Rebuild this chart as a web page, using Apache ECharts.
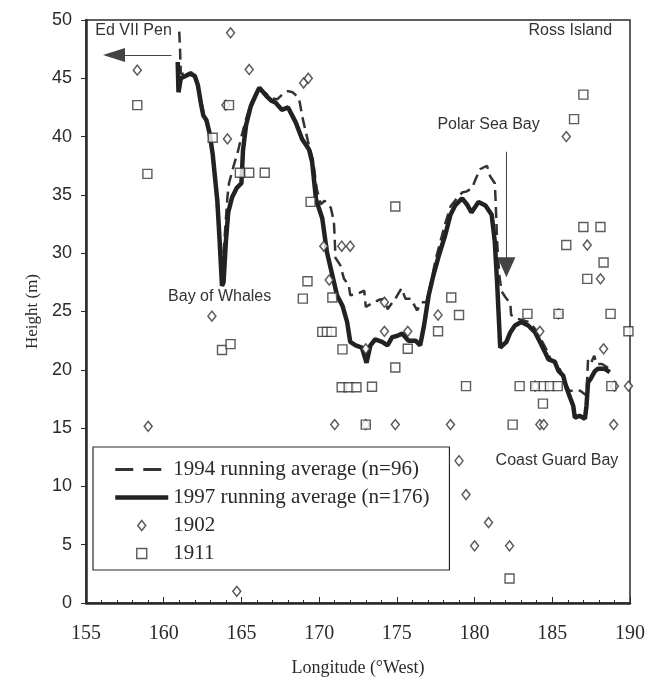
<!DOCTYPE html>
<html><head><meta charset="utf-8">
<script src="https://cdn.jsdelivr.net/npm/echarts@6/dist/echarts.min.js"></script>
<style>html,body{margin:0;padding:0;background:#fff;}#c{width:648px;height:684px;}</style>
</head><body><div id="c"></div>
<script>
// 1994 running average (n=96)
const lon1994 = [161.0,161.05,161.1,161.5,161.8,162.1,162.4,162.6,162.9,163.15,163.35,163.6,163.75,163.9,164.1,164.2,164.5,164.75,165.0,165.3,165.6,165.9,166.15,166.5,166.9,167.3,167.7,168.0,168.3,168.7,168.95,169.3,169.6,169.85,170.1,170.35,170.75,170.95,171.0,171.05,171.35,171.6,171.9,172.0,172.45,172.9,173.0,173.4,173.85,174.25,174.4,174.9,175.3,175.55,175.9,176.3,176.6,176.9,177.2,177.5,177.8,178.1,178.45,178.8,179.2,179.5,179.85,180.05,180.35,180.8,181.0,181.3,181.35,181.45,181.6,181.75,182.0,182.3,182.35,182.7,183.0,183.5,183.9,184.2,184.6,184.9,185.3,185.6,185.9,186.1,186.3,186.8,187.2,187.3,187.5,187.7,187.85,188.2,188.8];
const h1994   = [49.0,47.5,45.4,45.4,45.5,44.8,43.0,41.8,40.6,38.5,35.5,31.0,28.5,31.0,34.8,36.0,37.5,38.6,40.0,41.5,42.8,43.6,44.1,43.8,43.3,43.2,43.7,43.9,43.8,43.3,41.5,39.5,38.0,35.5,34.2,34.5,33.9,32.7,31.3,29.6,29.0,27.8,27.3,26.4,26.5,26.8,25.4,25.7,26.0,26.1,25.2,26.1,27.0,26.1,26.1,25.1,25.8,25.8,27.5,29.5,31.0,32.5,34.0,34.6,35.2,35.3,35.6,36.3,37.2,37.5,36.6,36.0,34.6,31.0,28.0,26.7,26.2,25.7,24.7,24.4,24.3,24.1,23.5,22.8,21.8,20.9,20.6,19.7,18.7,18.2,18.2,18.2,17.8,20.9,20.6,21.2,20.5,20.5,20.0];
// 1997 running average (n=176)
const lon1997 = [160.9,160.95,161.1,161.4,161.7,162.0,162.2,162.4,162.55,162.75,162.95,163.15,163.3,163.45,163.6,163.75,163.85,164.0,164.15,164.4,164.7,165.0,165.1,165.3,165.6,165.9,166.15,166.4,166.6,166.9,167.2,167.6,168.0,168.5,168.9,169.35,169.55,169.8,170.2,170.5,170.85,171.15,171.5,171.8,172.0,172.35,172.75,173.05,173.3,173.6,174.05,174.4,174.7,175.0,175.35,175.75,176.2,176.5,176.75,177.05,177.35,177.7,178.1,178.45,178.75,179.2,179.5,179.8,180.25,180.7,181.1,181.3,181.45,181.55,181.65,182.05,182.3,182.6,183.0,183.45,183.9,184.2,184.5,184.75,185.15,185.4,185.7,185.9,186.15,186.35,186.45,186.75,187.1,187.2,187.3,187.5,187.75,187.95,188.35,188.7];
const h1997   = [46.4,43.8,45.0,45.2,45.4,45.2,44.4,42.8,41.8,41.4,40.3,38.5,36.5,34.5,31.0,27.2,27.5,31.0,33.5,34.8,35.6,36.0,38.8,41.0,42.6,43.5,44.2,43.8,43.5,43.1,42.9,42.3,42.5,41.2,39.8,38.9,37.8,34.6,33.0,30.1,28.1,26.4,25.5,24.1,22.4,22.1,21.9,20.6,22.1,22.6,22.4,22.1,22.8,22.9,23.1,22.5,22.5,22.1,23.8,26.4,28.1,29.8,31.5,33.3,34.1,34.7,34.2,33.5,34.4,34.1,33.3,31.0,27.5,24.7,21.9,22.4,23.2,23.8,24.1,23.8,23.2,22.4,21.6,20.9,20.7,19.9,19.5,18.5,17.6,16.9,15.9,16.05,15.8,16.9,18.9,19.3,19.9,20.1,20.1,19.8];
// 1902 survey
const lon1902 = [158.3,164.3,165.5,164.0,164.1,163.1,159.0,164.7,169.0,169.3,170.3,171.45,172.0,170.65,174.2,174.2,175.7,173.0,177.65,171.0,174.9,178.45,179.0,179.45,180.9,180.0,182.25,185.9,187.25,188.1,184.2,188.3,189.0,189.9,184.2,184.45,188.95,185.4,183.9,173.0];
const h1902   = [45.7,48.9,45.75,42.7,39.8,24.6,15.15,1.0,44.6,45.0,30.6,30.6,30.6,27.7,25.8,23.3,23.3,21.8,24.7,15.3,15.3,15.3,12.2,9.3,6.9,4.9,4.9,40.0,30.7,27.8,23.3,21.8,18.6,18.6,15.3,15.3,15.3,24.8,18.6,15.3];
// 1911 survey
const lon1911 = [158.3,164.2,163.15,158.95,164.9,165.5,166.5,163.75,164.3,169.45,174.9,187.0,186.4,169.25,168.95,170.85,170.2,170.5,170.8,171.5,175.7,174.9,171.45,171.9,172.4,173.4,178.5,179.0,177.65,179.45,173.0,187.0,188.1,185.9,188.3,187.25,183.4,185.4,188.75,189.9,182.9,183.9,184.45,184.85,185.35,184.4,188.8,182.45,182.25];
const h1911   = [42.7,42.7,39.9,36.8,36.9,36.9,36.9,21.7,22.2,34.4,34.0,43.6,41.5,27.6,26.1,26.2,23.25,23.25,23.25,21.75,21.8,20.2,18.5,18.5,18.5,18.55,26.2,24.7,23.3,18.6,15.3,32.25,32.25,30.7,29.2,27.8,24.8,24.8,24.8,23.3,18.6,18.6,18.6,18.6,18.6,17.1,18.6,15.3,2.1];
// axis ticks
const xTicks = [155,160,165,170,175,180,185,190];
const yTicks = [0,5,10,15,20,25,30,35,40,45,50];
// annotations
const noteText  = ['Ed VII Pen','Ross Island','Polar Sea Bay','Bay of Whales','Coast Guard Bay'];
const noteLon   = [155.6,188.85,180.9,163.6,185.3];
const noteH     = [49.05,49.05,41.0,26.3,12.2];
const noteAlign = ['left','right','center','center','center'];
const edArrow    = [[160.5,47.0],[156.8,47.0]];
const polarArrow = [[182.05,38.7],[182.05,28.8]];

const zip = (a,b) => a.map((v,i)=>[v,b[i]]);
const serif = '"Liberation Serif","Times New Roman",serif';
const sans = '"Liberation Sans",Arial,sans-serif';
const ink = '#2a2a2a';
const diamondPath = 'path://M4,0L8,5L4,10L0,5Z';
const squarePath = 'path://M0,0L10,0L10,10L0,10Z';

const chart = echarts.init(document.getElementById('c'), null, {renderer:'canvas'});
chart.setOption({
  animation:false,
  backgroundColor:'#fff',
  grid:{left:86,right:16,top:20,bottom:81,show:true,borderColor:ink,borderWidth:1.5,backgroundColor:'transparent'},
  xAxis:{type:'value',min:xTicks[0],max:xTicks[xTicks.length-1],interval:5,
    name:'Longitude (°West)',nameLocation:'middle',nameGap:56,
    nameTextStyle:{fontFamily:serif,fontSize:18,color:ink},
    axisLine:{show:true,lineStyle:{color:ink,width:2.5}},
    axisTick:{show:true,inside:true,length:6,lineStyle:{color:ink,width:1}},
    minorTick:{show:true,splitNumber:5,length:3,lineStyle:{color:ink,width:1}},
    axisLabel:{fontFamily:serif,fontSize:20,color:ink,margin:21},
    splitLine:{show:false}},
  yAxis:{type:'value',min:yTicks[0],max:yTicks[yTicks.length-1],interval:5,
    name:'Height (m)',nameLocation:'middle',nameGap:44,
    nameTextStyle:{fontFamily:serif,fontSize:17,color:ink},
    axisLine:{show:true,lineStyle:{color:ink,width:2.5}},
    axisTick:{show:true,inside:false,length:5,lineStyle:{color:ink,width:1}},
    axisLabel:{fontFamily:sans,fontSize:18,color:ink,margin:14},
    splitLine:{show:false}},
  legend:{orient:'vertical',left:93,top:447,padding:[12,20,6,20],itemGap:7,
    itemWidth:53,itemHeight:10,symbolKeepAspect:true,
    borderColor:ink,borderWidth:1.2,backgroundColor:'#fff',
    textStyle:{fontFamily:serif,fontSize:21,color:ink},
    data:[
      {name:'1994 running average (n=96)',itemStyle:{opacity:0},lineStyle:{type:[18,10],width:3}},
      {name:'1997 running average (n=176)',itemStyle:{opacity:0},lineStyle:{width:4.5}},
      {name:'1902',icon:diamondPath,itemStyle:{borderWidth:1.5}},
      {name:'1911',icon:squarePath,itemStyle:{borderWidth:1.4}}
    ]},
  series:[
    {name:'1994 running average (n=96)',type:'line',data:zip(lon1994,h1994),symbol:'none',
      itemStyle:{color:'#333'},
      lineStyle:{color:'#333',width:2.5,type:[11,6]},z:3,
      markLine:{silent:true,symbol:['none','triangle'],symbolSize:[14,22],label:{show:false},
        lineStyle:{color:'#444',width:1,type:'solid'},
        data:[[{coord:edArrow[0]},{coord:edArrow[1]}]]}},
    {name:'1997 running average (n=176)',type:'line',data:zip(lon1997,h1997),symbol:'none',
      itemStyle:{color:'#222'},
      lineStyle:{color:'#222',width:4.5},z:4,
      markLine:{silent:true,symbol:['none','triangle'],symbolSize:[18,20],label:{show:false},
        lineStyle:{color:'#444',width:1,type:'solid'},
        data:[[{coord:polarArrow[0]},{coord:polarArrow[1]}]]}},
    {name:'1902',type:'scatter',data:zip(lon1902,h1902),symbol:'diamond',symbolSize:[8,10],
      itemStyle:{color:'#fff',borderColor:'#333',borderWidth:1.5},z:5},
    {name:'1911',type:'scatter',data:zip(lon1911,h1911),symbol:'rect',symbolSize:9,
      itemStyle:{color:'#fff',borderColor:'#333',borderWidth:1.4},z:5}
  ]
});
const g = noteText.map((t,i)=>{
  const p = chart.convertToPixel({gridIndex:0},[noteLon[i],noteH[i]]);
  return {type:'text',x:p[0],y:p[1],z:10,
    style:{text:t,fontFamily:sans,fontSize:16,fill:'#333',align:noteAlign[i],verticalAlign:'middle'}};
});
chart.setOption({graphic:g});
</script>
</body></html>
